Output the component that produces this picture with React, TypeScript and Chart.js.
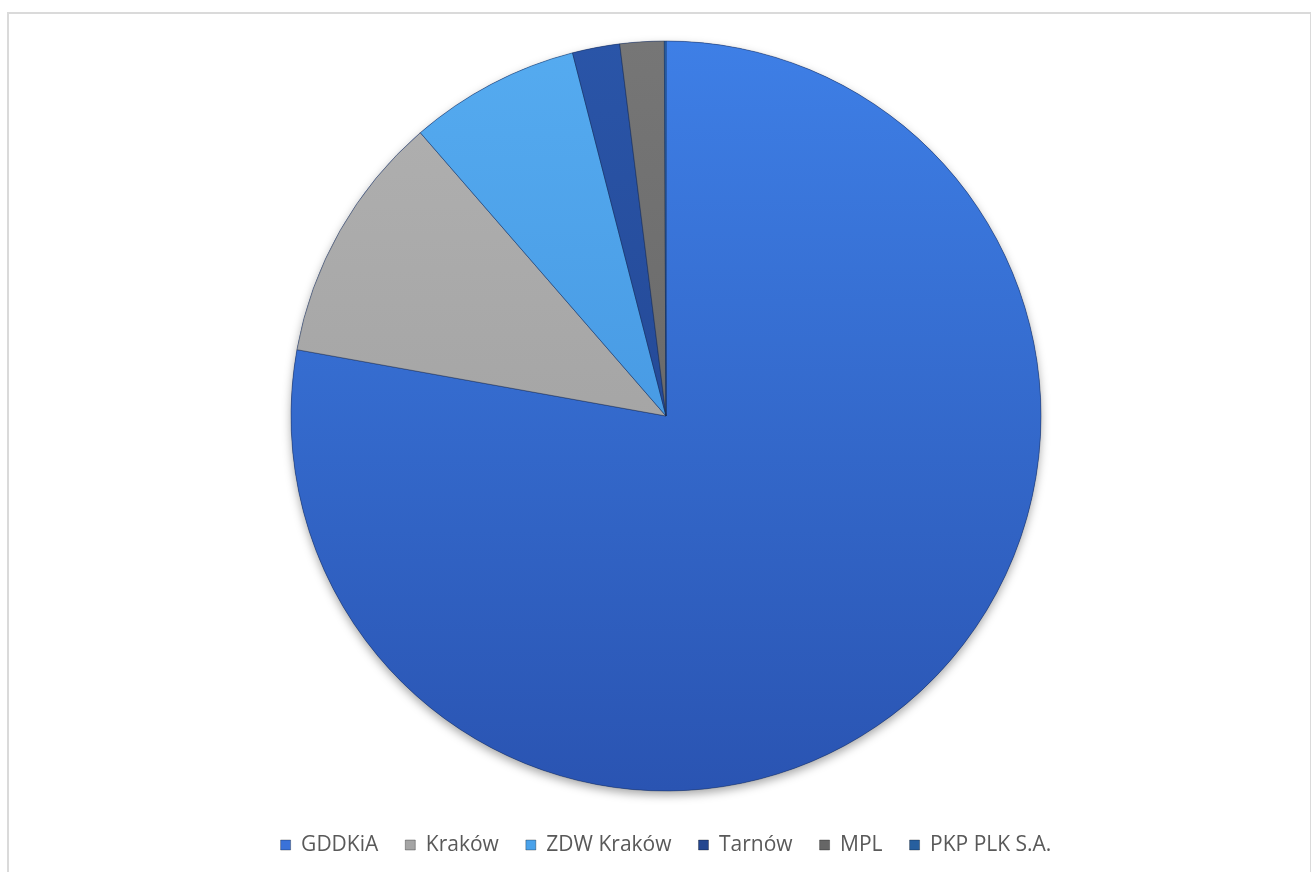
import React, { useEffect, useRef } from "react";
import { Chart, registerables } from "chart.js";

Chart.register(...registerables);

const categories = ["GDDKiA", "Kraków", "ZDW Kraków", "Tarnów", "MPL", "PKP PLK S.A."];
const values = [77.83, 10.8, 7.36, 2.04, 1.9, 0.07];
const gradientStops: [string, string][] = [
  ["#3e7fe6", "#2a54b2"],
  ["#b1b1b1", "#9a9a9a"],
  ["#55abf0", "#3c8bd8"],
  ["#2a55a8", "#1f3f88"],
  ["#767676", "#5f5f5f"],
  ["#2d6db5", "#22528f"],
];
const legendColors = ["#3a72d8", "#a5a5a5", "#4aa2ea", "#23468f", "#666666", "#275f9f"];

const shadowPlugin = {
  id: "pieShadow",
  beforeDatasetsDraw(chart: any) {
    const meta = chart.getDatasetMeta(0);
    const arc = meta.data[0];
    if (!arc) return;
    const { x, y, outerRadius } = arc.getProps(["x", "y", "outerRadius"], true);
    const ctx = chart.ctx;
    ctx.save();
    ctx.shadowColor = "rgba(0,0,0,0.35)";
    ctx.shadowBlur = 10;
    ctx.shadowOffsetY = 4;
    ctx.beginPath();
    ctx.arc(x, y, outerRadius, 0, Math.PI * 2);
    ctx.fillStyle = "#2a54b2";
    ctx.fill();
    ctx.restore();
  },
};

export default function App() {
  const ref = useRef<HTMLCanvasElement>(null);
  useEffect(() => {
    if (!ref.current) return;
    const chart = new Chart(ref.current, {
      type: "pie",
      data: {
        labels: categories,
        datasets: [
          {
            data: values,
            backgroundColor: (c: any) => {
              const area = c.chart.chartArea;
              const stops = gradientStops[c.dataIndex % gradientStops.length];
              if (!area) return stops[0];
              const g = c.chart.ctx.createLinearGradient(0, 41, 0, 791);
              g.addColorStop(0, stops[0]);
              g.addColorStop(1, stops[1]);
              return g;
            },
            borderColor: "rgba(20,40,80,0.45)",
            borderWidth: 1,
            radius: 375,
          } as any,
        ],
      },
      options: {
        animation: false,
        responsive: true,
        maintainAspectRatio: false,
        layout: { padding: { left: 21, top: 24.5, bottom: 6.5, right: 0 } },
        plugins: {
          tooltip: { enabled: false },
          legend: {
            position: "bottom",
            labels: {
              font: { family: "'Open Sans'", size: 21 },
              color: "#595959",
              boxWidth: 10,
              boxHeight: 10,
              padding: 27,
              generateLabels: () =>
                categories.map((t, i) => ({
                  text: t,
                  fillStyle: legendColors[i],
                  strokeStyle: "rgba(0,0,0,0.3)",
                  lineWidth: 1,
                  hidden: false,
                  index: i,
                  fontColor: "#595959",
                })),
            },
          },
        },
      },
      plugins: [shadowPlugin],
    });
    return () => chart.destroy();
  }, []);

  return (
    <div style={{ position: "fixed", left: 0, top: 0, width: 1311, height: 872, background: "#fff", overflow: "hidden" }}>
      <div
        style={{
          position: "absolute",
          left: 7,
          top: 12,
          width: 1301,
          height: 900,
          border: "2px solid #dadada",
        }}
      />
      <div style={{ position: "absolute", left: 0, top: 0, width: 1311, height: 872 }}>
        <canvas ref={ref} />
      </div>
    </div>
  );
}
